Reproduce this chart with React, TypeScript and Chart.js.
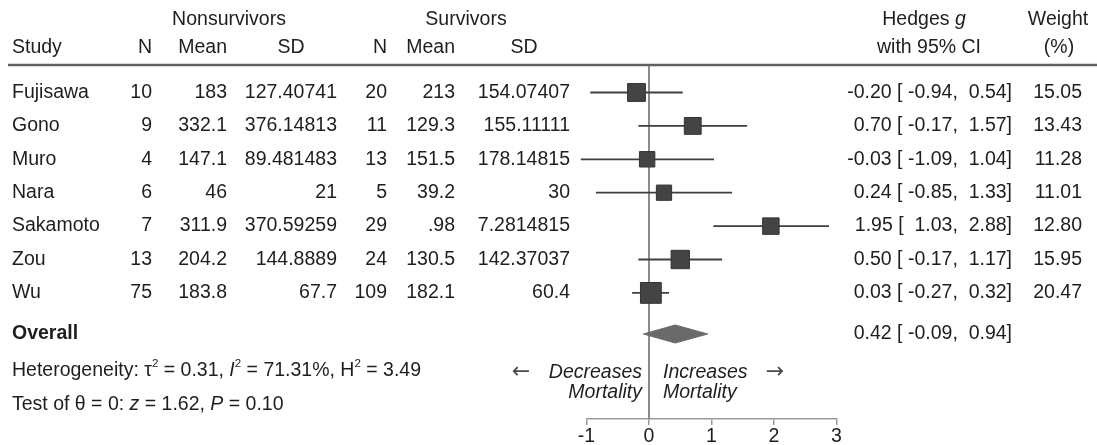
import React, { useEffect, useRef } from "react";
import { Chart, registerables } from "chart.js";

Chart.register(...registerables);

// ---------------- data ----------------
const studies = ["Fujisawa", "Gono", "Muro", "Nara", "Sakamoto", "Zou", "Wu"];
const nonN = ["10", "9", "4", "6", "7", "13", "75"];
const nonMean = ["183", "332.1", "147.1", "46", "311.9", "204.2", "183.8"];
const nonSD = ["127.40741", "376.14813", "89.481483", "21", "370.59259", "144.8889", "67.7"];
const surN = ["20", "11", "13", "5", "29", "24", "109"];
const surMean = ["213", "129.3", "151.5", "39.2", ".98", "130.5", "182.1"];
const surSD = ["154.07407", "155.11111", "178.14815", "30", "7.2814815", "142.37037", "60.4"];
const effect = [-0.2, 0.7, -0.03, 0.24, 1.95, 0.5, 0.03];
const lower = [-0.94, -0.17, -1.09, -0.85, 1.03, -0.17, -0.27];
const upper = [0.54, 1.57, 1.04, 1.33, 2.88, 1.17, 0.32];
const weights = [15.05, 13.43, 11.28, 11.01, 12.8, 15.95, 20.47];
const overallEst = 0.42;
const overallLo = -0.09;
const overallHi = 0.94;
const xTicks = [-1, 0, 1, 2, 3];
const heterogeneityText = [
  { t: "Heterogeneity: \u03C4" },
  { t: "2", sup: true },
  { t: " = 0.31, " },
  { t: "I", it: true },
  { t: "2", sup: true },
  { t: " = 71.31%, H" },
  { t: "2", sup: true },
  { t: " = 3.49" },
];
const testText = [
  { t: "Test of \u03B8 = 0: " },
  { t: "z", it: true },
  { t: " = 1.62, " },
  { t: "P", it: true },
  { t: " = 0.10" },
];

// ---------------- layout / style ----------------
const FAMILY = '"Liberation Sans", Arial, Helvetica, sans-serif';
const FS = 19.5;
const SUP = 11.5;
const TEXT = "#1e1e1e";
const ROW_TOP = -0.823; // header rule / top of plot area (row units)
const ROW_BOTTOM = 9.775; // x axis (row units)
const ROW_OVERALL = 7.23;
const ROW_HET = 8.34;
const ROW_TEST = 9.33;
const ROW_HEAD1 = -2.17;
const ROW_HEAD2 = -1.33;
const ROW_DEC1 = 8.4;
const ROW_DEC2 = 8.97;
const DIAMOND_H = 0.27;

const COL = {
  study: 12,
  n1: 152,
  mean1: 227,
  sd1: 337,
  n2: 387,
  mean2: 455,
  sd2: 570,
  ci: 1012,
  w: 1082,
};

type Seg = { t: string; it?: boolean; b?: boolean; sup?: boolean };

function fontFor(s: Seg) {
  return `${s.it ? "italic " : ""}${s.b ? "bold " : ""}${s.sup ? SUP : FS}px ${FAMILY}`;
}

function drawRich(ctx: CanvasRenderingContext2D, segs: Seg[], x: number, y: number, align: "left" | "right" | "center") {
  let total = 0;
  for (const s of segs) {
    ctx.font = fontFor(s);
    total += ctx.measureText(s.t).width;
  }
  let cx = align === "right" ? x - total : align === "center" ? x - total / 2 : x;
  ctx.textAlign = "left";
  for (const s of segs) {
    ctx.font = fontFor(s);
    ctx.fillText(s.t, cx, s.sup ? y - 7 : y);
    cx += ctx.measureText(s.t).width;
  }
}

function fmt(v: number) {
  return v.toFixed(2);
}
function padCI(v: number) {
  return v < 0 ? " " + fmt(v) : "  " + fmt(v);
}
function ciLabel(e: number, lo: number, hi: number) {
  return `${fmt(e)} [${padCI(lo)},${padCI(hi)}]`;
}

const tablePlugin = {
  id: "forestTable",
  beforeDatasetsDraw(chart: any) {
    const ctx: CanvasRenderingContext2D = chart.ctx;
    const ys = chart.scales.y;
    const yr = ys.getPixelForValue(ROW_TOP);
    ctx.save();
    ctx.strokeStyle = "#5f5f5f";
    ctx.lineWidth = 2.5;
    ctx.beginPath();
    ctx.moveTo(8, yr);
    ctx.lineTo(chart.width, yr);
    ctx.stroke();
    ctx.restore();
  },
  afterDraw(chart: any) {
    const ctx: CanvasRenderingContext2D = chart.ctx;
    const ys = chart.scales.y;
    const py = (v: number) => ys.getPixelForValue(v);
    ctx.save();
    ctx.textBaseline = "middle";
    ctx.fillStyle = TEXT;
    const txt = (t: string, x: number, y: number, align: CanvasTextAlign, font?: string) => {
      ctx.font = font || `${FS}px ${FAMILY}`;
      ctx.textAlign = align;
      ctx.fillText(t, x, y);
    };
    // headers
    const h1 = py(ROW_HEAD1);
    const h2 = py(ROW_HEAD2);
    txt("Nonsurvivors", 229, h1, "center");
    txt("Survivors", 466, h1, "center");
    drawRich(ctx, [{ t: "Hedges " }, { t: "g", it: true }], 924, h1, "center");
    txt("Weight", 1058, h1, "center");
    txt("Study", COL.study, h2, "left");
    txt("N", COL.n1, h2, "right");
    txt("Mean", COL.mean1, h2, "right");
    txt("SD", 291, h2, "center");
    txt("N", COL.n2, h2, "right");
    txt("Mean", COL.mean2, h2, "right");
    txt("SD", 524, h2, "center");
    txt("with 95% CI", 929, h2, "center");
    txt("(%)", 1059, h2, "center");
    // rows
    studies.forEach((s, i) => {
      const y = py(i);
      txt(s, COL.study, y, "left");
      txt(nonN[i], COL.n1, y, "right");
      txt(nonMean[i], COL.mean1, y, "right");
      txt(nonSD[i], COL.sd1, y, "right");
      txt(surN[i], COL.n2, y, "right");
      txt(surMean[i], COL.mean2, y, "right");
      txt(surSD[i], COL.sd2, y, "right");
      txt(ciLabel(effect[i], lower[i], upper[i]), COL.ci, y, "right");
      txt(weights[i].toFixed(2), COL.w, y, "right");
    });
    // overall
    const yo = py(ROW_OVERALL);
    txt("Overall", COL.study, yo, "left", `bold ${FS}px ${FAMILY}`);
    txt(ciLabel(overallEst, overallLo, overallHi), COL.ci, yo, "right");
    drawRich(ctx, heterogeneityText, COL.study, py(ROW_HET), "left");
    drawRich(ctx, testText, COL.study, py(ROW_TEST), "left");
    // direction labels
    const x0 = chart.scales.x.getPixelForValue(0);
    const it = `italic ${FS}px ${FAMILY}`;
    txt("Decreases", x0 - 7, py(ROW_DEC1), "right", it);
    txt("Mortality", x0 - 7, py(ROW_DEC2), "right", it);
    txt("Increases", x0 + 14, py(ROW_DEC1), "left", it);
    txt("Mortality", x0 + 14, py(ROW_DEC2), "left", it);
    ctx.fillStyle = "#4a4a4a";
    txt("\u2190", x0 - 128, py(ROW_DEC1) - 1, "center", `22px "DejaVu Sans", ${FAMILY}`);
    txt("\u2192", x0 + 126, py(ROW_DEC1) - 1, "center", `22px "DejaVu Sans", ${FAMILY}`);
    ctx.restore();
  },
};

export default function App() {
  const ref = useRef<HTMLCanvasElement | null>(null);
  useEffect(() => {
    if (!ref.current) return;
    const ciSets = studies.map((s, i) => ({
      type: "line" as const,
      label: s + " CI",
      data: [
        { x: lower[i], y: i },
        { x: upper[i], y: i },
      ],
      borderColor: "#3f3f3f",
      borderWidth: 1.8,
      pointRadius: 0,
      clip: false as any,
      order: 2,
    }));
    const chart = new Chart(ref.current, {
      type: "line",
      data: {
        datasets: [
          {
            label: "studies",
            data: effect.map((e, i) => ({ x: e, y: i })),
            showLine: false,
            pointStyle: "rect",
            pointRadius: weights.map((w) => 3.25 * Math.sqrt(w)),
            backgroundColor: "#444444",
            borderColor: "#333333",
            borderWidth: 1,
            clip: false as any,
            order: 0,
          },
          {
            label: "overall",
            data: [
              { x: overallLo, y: ROW_OVERALL },
              { x: overallEst, y: ROW_OVERALL - DIAMOND_H },
              { x: overallHi, y: ROW_OVERALL },
              { x: overallEst, y: ROW_OVERALL + DIAMOND_H },
              { x: overallLo, y: ROW_OVERALL },
            ],
            fill: "shape",
            backgroundColor: "#6a6a6a",
            borderColor: "#6a6a6a",
            borderWidth: 1,
            pointRadius: 0,
            tension: 0,
            clip: false as any,
            order: 1,
          },
          ...ciSets,
          {
            label: "zero",
            data: [
              { x: 0, y: ROW_TOP },
              { x: 0, y: ROW_BOTTOM },
            ],
            borderColor: "#707070",
            borderWidth: 1.6,
            pointRadius: 0,
            clip: false as any,
            order: 3,
          },
        ] as any,
      },
      options: {
        animation: false,
        responsive: false,
        events: [],
        layout: { padding: { left: 586.5, right: 260.5, top: 65, bottom: 0 } },
        plugins: { legend: { display: false }, tooltip: { enabled: false } },
        scales: {
          x: {
            type: "linear",
            min: -1,
            max: 3,
            afterBuildTicks: (s: any) => {
              s.ticks = xTicks.map((v) => ({ value: v }));
            },
            afterFit: (s: any) => {
              s.height = 26;
            },
            ticks: {
              color: TEXT,
              font: { family: FAMILY, size: FS },
              padding: 0,
              maxRotation: 0,
              autoSkip: false,
              callback: (v: any) => String(v),
            },
            grid: { drawOnChartArea: false, drawTicks: true, tickLength: 6, color: "#9a9a9a", lineWidth: 1.5 },
            border: { display: true, color: "#9a9a9a", width: 1.5 },
          },
          y: {
            type: "linear",
            display: false,
            reverse: true,
            min: ROW_TOP,
            max: ROW_BOTTOM,
          },
        },
      } as any,
      plugins: [tablePlugin],
    });
    return () => chart.destroy();
  }, []);
  return (
    <div style={{ position: "absolute", left: 0, top: 0, width: 1097, height: 445, background: "#fff" }}>
      <canvas ref={ref} width={1097} height={445} style={{ display: "block", width: 1097, height: 445 }} />
    </div>
  );
}
